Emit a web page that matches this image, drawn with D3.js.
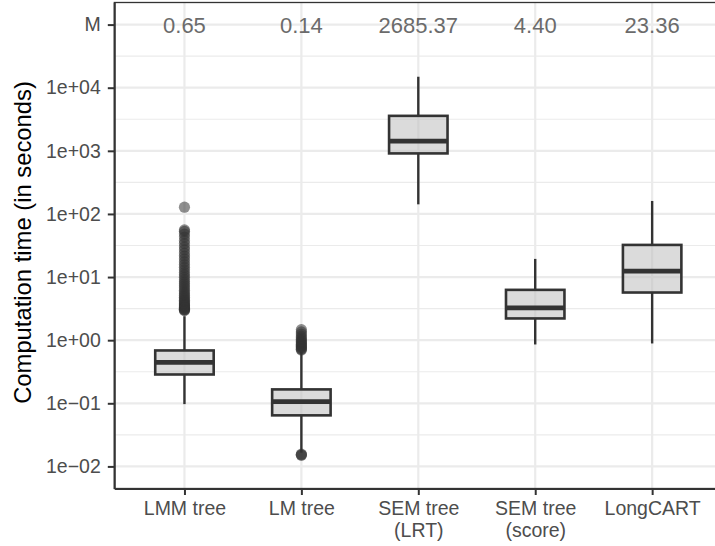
<!DOCTYPE html>
<html>
<head>
<meta charset="utf-8">
<script src="https://cdn.jsdelivr.net/npm/d3@7"></script>
<style>
  html, body { margin: 0; padding: 0; background: #fff; }
  svg { display: block; font-family: "Liberation Sans", Arial, Helvetica, sans-serif; }
</style>
</head>
<body>
<svg id="chart" width="715" height="546"></svg>
<script>
// Methods compared (line breaks split long labels)
const categories = ["LMM tree", "LM tree", "SEM tree\n(LRT)", "SEM tree\n(score)", "LongCART"];

// Box-plot statistics of computation time (seconds)
const whiskerLow  = [0.097, 0.0165, 142, 0.855, 0.887];
const q1          = [0.286, 0.0644, 910, 2.21, 5.69];
const median      = [0.445, 0.1064, 1422, 3.26, 12.4];
const q3          = [0.687, 0.166, 3581, 6.27, 32.3];
const whiskerHigh = [2.40, 0.66, 14925, 19.4, 160.6];

// Mean computation time, printed in the "M" row
const means = [0.65, 0.14, 2685.37, 4.40, 23.36];

// Outlying runs
const outliersLMM = [2.95, 3.0, 3.05, 3.1, 3.2, 3.3, 3.4, 3.5, 3.6, 3.75, 3.9, 4.1, 4.3, 4.5, 4.8, 5.1,
  5.4, 5.8, 6.2, 6.7, 7.2, 7.8, 8.4, 9.1, 9.9, 10.8, 11.8, 13.0, 14.3, 15.8, 17.5, 19.5, 21.5,
  24, 27, 30, 34, 38, 43, 48, 53, 56, 128];
const outliersLM = [0.015, 0.0153, 0.0156, 0.70, 0.72, 0.74, 0.77, 0.80, 0.83, 0.86, 0.90,
  0.94, 0.98, 1.03, 1.09, 1.16, 1.25, 1.35, 1.47];
const outliers = [outliersLMM, outliersLM, [], [], []];

// Y-axis ticks; the top position holds the means row
const yTicks = [1e5, 1e4, 1e3, 1e2, 1e1, 1e0, 1e-1, 1e-2];
const minorTicks = [-1.5, -0.5, 0.5, 1.5, 2.5, 3.5, 4.5].map(e => Math.pow(10, e));

const svg = d3.select("#chart");
const panel = { left: 114.3, right: 722.3, top: 2.5, bottom: 488.5 };

const x = d3.scalePoint()
  .domain(categories)
  .range([panel.left, panel.right])
  .padding(0.6);

const y = d3.scaleLog()
  .domain([Math.pow(10, -2.35), Math.pow(10, 5.35)])
  .range([panel.bottom, panel.top]);

const boxWidth = x.step() * 0.5;
const dark = "#333333";
const gridColor = "#ebebeb";

// Panel background and grid
svg.append("rect")
  .attr("x", panel.left).attr("y", panel.top)
  .attr("width", panel.right - panel.left).attr("height", panel.bottom - panel.top)
  .attr("fill", "#fff");

const grid = svg.append("g");
grid.selectAll("line.minor").data(minorTicks).join("line")
  .attr("class", "minor")
  .attr("x1", panel.left).attr("x2", panel.right)
  .attr("y1", d => y(d)).attr("y2", d => y(d))
  .attr("stroke", gridColor).attr("stroke-width", 1.1);
grid.selectAll("line.major").data(yTicks).join("line")
  .attr("class", "major")
  .attr("x1", panel.left).attr("x2", panel.right)
  .attr("y1", d => y(d)).attr("y2", d => y(d))
  .attr("stroke", gridColor).attr("stroke-width", 2.2);
grid.selectAll("line.vert").data(categories).join("line")
  .attr("class", "vert")
  .attr("x1", d => x(d)).attr("x2", d => x(d))
  .attr("y1", panel.top).attr("y2", panel.bottom)
  .attr("stroke", gridColor).attr("stroke-width", 2.2);

// Box plots
const boxes = svg.append("g")
  .selectAll("g")
  .data(categories.map((c, i) => ({ c, i })))
  .join("g");

boxes.append("line")
  .attr("x1", d => x(d.c)).attr("x2", d => x(d.c))
  .attr("y1", d => y(q3[d.i])).attr("y2", d => y(whiskerHigh[d.i]))
  .attr("stroke", dark).attr("stroke-width", 2.4);
boxes.append("line")
  .attr("x1", d => x(d.c)).attr("x2", d => x(d.c))
  .attr("y1", d => y(q1[d.i])).attr("y2", d => y(whiskerLow[d.i]))
  .attr("stroke", dark).attr("stroke-width", 2.4);
boxes.append("rect")
  .attr("x", d => x(d.c) - boxWidth / 2)
  .attr("width", boxWidth)
  .attr("y", d => y(q3[d.i]))
  .attr("height", d => y(q1[d.i]) - y(q3[d.i]))
  .attr("fill", "#bdbdbd").attr("fill-opacity", 0.55)
  .attr("stroke", dark).attr("stroke-width", 2.6);
boxes.append("line")
  .attr("x1", d => x(d.c) - boxWidth / 2).attr("x2", d => x(d.c) + boxWidth / 2)
  .attr("y1", d => y(median[d.i])).attr("y2", d => y(median[d.i]))
  .attr("stroke", dark).attr("stroke-width", 4.8);

// Outlier points
boxes.each(function (d) {
  d3.select(this).selectAll("circle")
    .data(outliers[d.i])
    .join("circle")
    .attr("cx", x(d.c))
    .attr("cy", v => y(v))
    .attr("r", 5.6)
    .attr("fill", dark)
    .attr("fill-opacity", 0.55);
});

// Means row
svg.append("g")
  .selectAll("text")
  .data(means)
  .join("text")
  .attr("x", (d, i) => x(categories[i]))
  .attr("y", y(1e5))
  .attr("dy", "0.36em")
  .attr("text-anchor", "middle")
  .attr("font-size", 22)
  .attr("fill", "#6b6b6b")
  .text(d => d.toFixed(2));

// Panel border
svg.append("rect")
  .attr("x", panel.left).attr("y", panel.top)
  .attr("width", panel.right - panel.left).attr("height", panel.bottom - panel.top)
  .attr("fill", "none").attr("stroke", dark).attr("stroke-width", 1.3);

// Y axis
const fmt = v => {
  if (v === 1e5) return "M";
  const e = Math.round(Math.log10(v));
  const sign = e < 0 ? "\u2212" : "+";
  return "1e" + sign + String(Math.abs(e)).padStart(2, "0");
};
const yAxis = svg.append("g")
  .attr("transform", `translate(${panel.left},0)`)
  .call(d3.axisLeft(y).tickValues(yTicks).tickFormat(fmt)
    .tickSizeInner(6.5).tickSizeOuter(0).tickPadding(7));
yAxis.select(".domain").attr("stroke", dark).attr("stroke-width", 2);
yAxis.selectAll(".tick line").attr("stroke", dark).attr("stroke-width", 2);
yAxis.selectAll(".tick text")
  .attr("fill", "#4d4d4d").attr("font-size", 19.5)
  .attr("font-family", "Liberation Sans, Arial, Helvetica, sans-serif");

// X axis
const xAxis = svg.append("g")
  .attr("transform", `translate(0,${panel.bottom})`)
  .call(d3.axisBottom(x).tickSizeInner(6.5).tickSizeOuter(0).tickFormat(""));
xAxis.select(".domain").attr("stroke", dark).attr("stroke-width", 2);
xAxis.selectAll(".tick line").attr("stroke", dark).attr("stroke-width", 2);
xAxis.selectAll(".tick").each(function (d) {
  const t = d3.select(this).append("text")
    .attr("fill", "#4d4d4d").attr("font-size", 19.5)
    .attr("text-anchor", "middle")
    .attr("font-family", "Liberation Sans, Arial, Helvetica, sans-serif");
  d.split("\n").forEach((line, k) => {
    t.append("tspan").attr("x", 0).attr("y", 26.5 + k * 21.7).text(line);
  });
});

// Y-axis title
svg.append("text")
  .attr("transform", `translate(31,${(panel.top + panel.bottom) / 2 - 3}) rotate(-90)`)
  .attr("text-anchor", "middle")
  .attr("font-size", 23.8)
  .attr("fill", "#000")
  .text("Computation time (in seconds)");
</script>
</body>
</html>
